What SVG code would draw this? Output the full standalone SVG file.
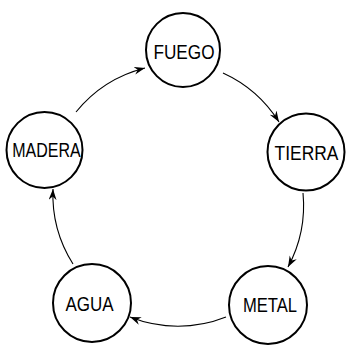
<svg xmlns="http://www.w3.org/2000/svg" width="346" height="346" viewBox="0 0 346 346">
<style>
.node circle{fill:#fff;stroke:#000;stroke-width:2}
.node text{font-family:"Liberation Sans",Arial,sans-serif;font-size:20px;fill:#000;text-anchor:middle}
.edge{fill:none;stroke:#000;stroke-width:1.1}
</style>
<defs>
<marker id="arr" markerUnits="userSpaceOnUse" markerWidth="12" markerHeight="10" refX="11" refY="4" orient="auto">
<path d="M0,0 L11,4 L0,8 L3.5,4 z" fill="#000"/>
</marker>
</defs>
<rect width="346" height="346" fill="#fff"/>
<g id="connectors">
<path class="edge" d="M76,112 A130,130 0 0,1 145,68" marker-end="url(#arr)"/>
<path class="edge" d="M223,73 A130,130 0 0,1 279,122" marker-end="url(#arr)"/>
<path class="edge" d="M303,193 A130,130 0 0,1 288,267" marker-end="url(#arr)"/>
<path class="edge" d="M226,317 A130,130 0 0,1 130,317" marker-end="url(#arr)"/>
<path class="edge" d="M73,264 A130,130 0 0,1 53,189" marker-end="url(#arr)"/>
</g>
<g id="fuego" class="node"><circle cx="183" cy="50" r="37"/><text transform="translate(184,59) scale(0.86,1)">FUEGO</text></g>
<g id="tierra" class="node"><circle cx="306" cy="152" r="38.5"/><text transform="translate(306.5,160) scale(0.87,1)">TIERRA</text></g>
<g id="metal" class="node"><circle cx="268" cy="305" r="39"/><text transform="translate(270,312) scale(0.83,1)">METAL</text></g>
<g id="agua" class="node"><circle cx="92" cy="303" r="39"/><text transform="translate(89.5,311) scale(0.85,1)">AGUA</text></g>
<g id="madera" class="node"><circle cx="44.5" cy="150" r="38"/><text transform="translate(46.5,157) scale(0.8,1)">MADERA</text></g>
</svg>
